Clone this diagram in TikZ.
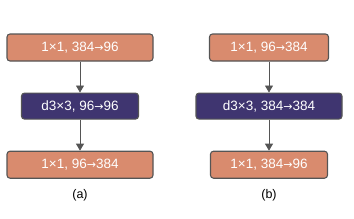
\documentclass[tikz,border=0pt]{standalone}
\usepackage{fontspec}
\setmainfont{Liberation Sans}
\newfontfamily\arrowfont{DejaVu Sans}
\usepackage{xcolor}
\usetikzlibrary{positioning,arrows.meta}
\definecolor{convorange}{HTML}{D98B6E}
\definecolor{convpurple}{HTML}{3F3570}
\definecolor{edgegray}{HTML}{555555}
\newcommand{\toch}{{\arrowfont\fontsize{11}{14}\selectfont →}}

\begin{document}
\begin{tikzpicture}[x=1pt,y=1pt,
  layerbox/.style={draw=edgegray, line width=1.1pt, rounded corners=3pt,
    text=white, font=\fontsize{13.5}{15}\selectfont, inner sep=0pt},
  pwbox/.style={layerbox, fill=convorange, minimum height=27pt},
  dwbox/.style={layerbox, fill=convpurple, minimum height=26pt},
  flow/.style={-{Triangle[length=7pt,width=8pt]}, edgegray, line width=0.8pt},
  node distance=31pt]
\useasboundingbox (0,0) rectangle (354,218);
% panel (a)
\node[pwbox, minimum width=146pt] (a1) at (80,170.5) {1×1, 384\toch96};
\node[dwbox, minimum width=117pt, below=of a1] (a2) {d3×3, 96\toch96};
\node[pwbox, minimum width=146pt, below=of a2] (a3) {1×1, 96\toch384};
\draw[flow] (a1) -- (a2);
\draw[flow] (a2) -- (a3);
\node[font=\fontsize{12.5}{14}\selectfont] (alabel) at (80,23) {(a)};
% panel (b)
\node[pwbox, minimum width=119pt] (b1) at (269,170.5) {1×1, 96\toch384};
\node[dwbox, minimum width=146pt, below=of b1] (b2) {d3×3, 384\toch384};
\node[pwbox, minimum width=117pt, below=of b2] (b3) {1×1, 384\toch96};
\draw[flow] (b1) -- (b2);
\draw[flow] (b2) -- (b3);
\node[font=\fontsize{12.5}{14}\selectfont] (blabel) at (269,23) {(b)};
\end{tikzpicture}
\end{document}
